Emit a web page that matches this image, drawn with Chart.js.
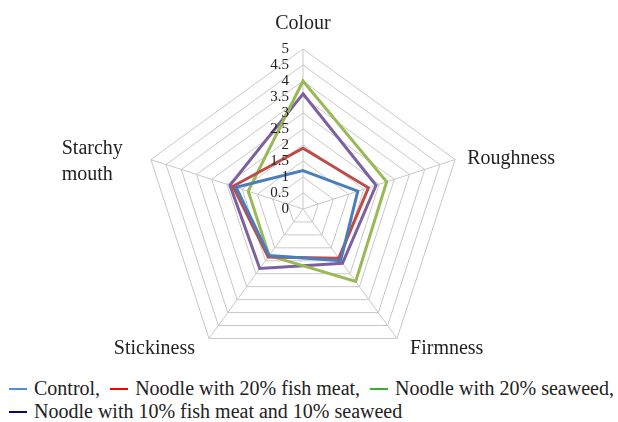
<!DOCTYPE html>
<html>
<head>
<meta charset="utf-8">
<script src="https://cdn.jsdelivr.net/npm/chart.js@4/dist/chart.umd.min.js"></script>
<style>
    html, body { margin: 0; padding: 0; background: #fff; }
    body { width: 618px; height: 422px; position: relative; overflow: hidden; font-family: 'Liberation Serif', Tinos, 'Times New Roman', serif; color: #222; }
    #wrap { position: absolute; left: 0; top: 0; width: 618px; height: 370px; }
    .legend-row { position: absolute; left: 9px; font-family: 'Liberation Serif', Tinos, 'Times New Roman', serif; font-size: 20px; line-height: 22px; white-space: nowrap; }
    .legend-row span.mark { display: inline-block; width: 18px; height: 2px; vertical-align: middle; margin-right: 7px; position: relative; top: -1px; }
    .legend-row span.item { margin-right: 10px; }
</style>
</head>
<body>
<div id="wrap"><canvas id="radarChart"></canvas></div>
<div class="legend-row" id="legendRow1" style="top:377px;"></div>
<div class="legend-row" id="legendRow2" style="top:400px;"></div>

<script>
// Chart data
const axisLabels = ['Colour', 'Roughness', 'Firmness', 'Stickiness', ['Starchy', 'mouth']];
const tickValues = [0, 0.5, 1, 1.5, 2, 2.5, 3, 3.5, 4, 4.5, 5];

const control = [1.2, 1.8, 2.0, 1.8, 2.2];
const fishMeat20 = [1.9, 2.15, 1.9, 1.85, 2.3];
const seaweed20 = [4.0, 2.75, 2.8, 1.8, 1.8];
const fishSeaweed10 = [3.6, 2.4, 2.1, 2.3, 2.4];

const seriesNames = ['Control', 'Noodle with 20% fish meat', 'Noodle with 20% seaweed', 'Noodle with 10% fish meat and 10% seaweed'];

// Line colours in the plot and (different) colours in the legend
const lineColors = ['#4a7ebb', '#be4b48', '#98b954', '#7d60a0'];
const legendColors = ['#4f8fd6', '#ff0000', '#33b233', '#0a0a6e'];

const FONT = "'Liberation Serif', Tinos, 'Times New Roman', serif";

// Draw the axis titles and the tick numbers ourselves so they sit like the original
const labelPlugin = {
    id: 'radarText',
    afterDraw(chart) {
        const scale = chart.scales.r;
        const ctx = chart.ctx;
        ctx.save();
        ctx.fillStyle = '#222';

        // tick numbers, right aligned just left of the vertical axis
        ctx.font = '15px ' + FONT;
        ctx.textAlign = 'right';
        ctx.textBaseline = 'middle';
        tickValues.forEach(function (v) {
            const p = scale.getPointPositionForValue(0, v);
            ctx.fillText(String(v), p.x - 14, p.y);
        });

        // axis titles
        ctx.font = '20px ' + FONT;
        const place = [
            { dx: 0, dy: -25, align: 'center' },
            { dx: 12, dy: -1, align: 'left' },
            { dx: 13, dy: 10, align: 'left' },
            { dx: -14, dy: 10, align: 'right' },
            { dx: -28, dy: 2, align: 'block-right' }
        ];
        axisLabels.forEach(function (label, i) {
            const p = scale.getPointPosition(i, scale.drawingArea);
            const lines = Array.isArray(label) ? label : [label];
            const pl = place[i];
            const lh = 26;
            let x = p.x + pl.dx;
            let y = p.y + pl.dy - (lines.length - 1) * lh / 2;
            ctx.textBaseline = 'middle';
            if (pl.align === 'block-right') {
                const w = Math.max.apply(null, lines.map(l => ctx.measureText(l).width));
                x = x - w;
                ctx.textAlign = 'left';
            } else {
                ctx.textAlign = pl.align;
            }
            lines.forEach(function (line, k) {
                ctx.fillText(line, x, y + k * lh);
            });
        });
        ctx.restore();
    }
};

const allSeries = [control, fishMeat20, seaweed20, fishSeaweed10];

new Chart(document.getElementById('radarChart'), {
    type: 'radar',
    data: {
        labels: axisLabels,
        datasets: allSeries.map(function (values, i) {
            return {
                label: seriesNames[i],
                data: values,
                borderColor: lineColors[i],
                backgroundColor: 'transparent',
                borderWidth: 3,
                pointRadius: 0,
                fill: false,
                tension: 0
            };
        })
    },
    options: {
        responsive: true,
        maintainAspectRatio: false,
        animation: false,
        layout: {
            padding: { left: 143, right: 155, top: 49, bottom: 1 }
        },
        plugins: {
            legend: { display: false },
            tooltip: { enabled: false }
        },
        scales: {
            r: {
                min: 0,
                max: 5,
                ticks: { stepSize: 0.5, display: false },
                pointLabels: { display: false },
                grid: { color: '#c8c8c8', lineWidth: 1 },
                angleLines: { color: '#c8c8c8', lineWidth: 1 }
            }
        }
    },
    plugins: [labelPlugin]
});

// HTML legend, two rows like the original
function legendItem(i, suffix) {
    return '<span class="item"><span class="mark" style="background:' + legendColors[i] + '"></span>' + seriesNames[i] + suffix + '</span>';
}
document.getElementById('legendRow1').innerHTML = legendItem(0, ',') + legendItem(1, ',') + legendItem(2, ',');
document.getElementById('legendRow2').innerHTML = legendItem(3, '');
</script>
</body>
</html>
